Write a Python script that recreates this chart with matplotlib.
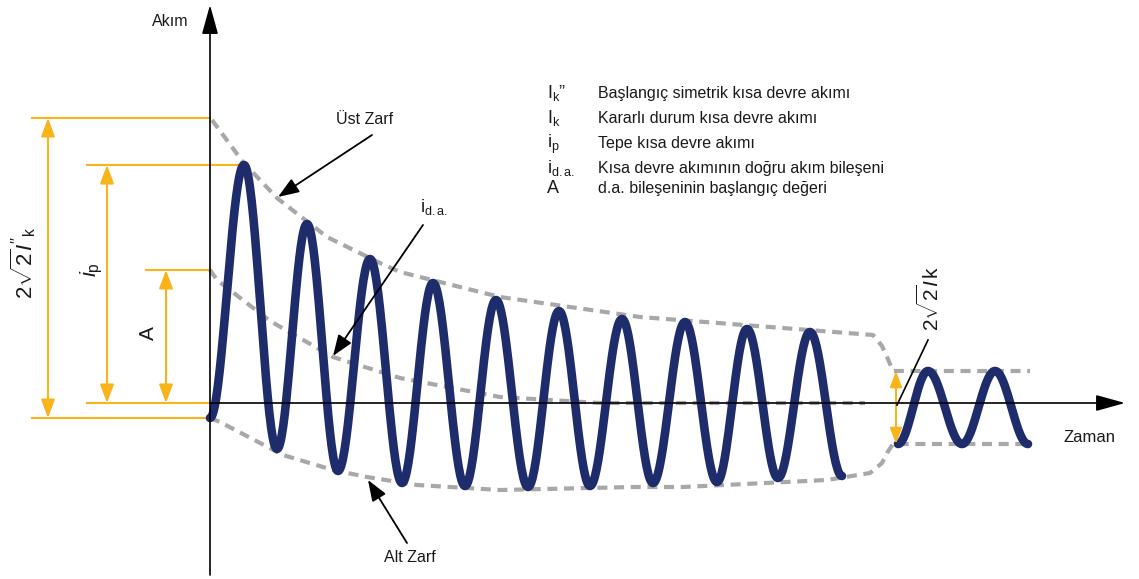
import matplotlib
matplotlib.use("Agg")
import matplotlib.pyplot as plt
import numpy as np

plt.rcParams['font.family'] = ['Liberation Sans', 'DejaVu Sans']
plt.rcParams['mathtext.fontset'] = 'custom'
plt.rcParams['mathtext.rm'] = 'Liberation Sans'
plt.rcParams['mathtext.it'] = 'Liberation Sans:italic'
plt.rcParams['mathtext.bf'] = 'Liberation Sans:bold'

# short-circuit current: extrema of the transient (time, current), schematic units
wave_t = [0, 34, 67, 97, 128, 160, 192, 223, 255, 286, 318, 349, 380, 412, 443, 475, 507, 537, 568, 600, 632]
wave_i = [-15, 238, -46, 179, -68, 144, -80, 120, -83, 103, -84, 92, -83, 84, -80, 81, -79, 74, -75, 71, -73]

# steady state after the transient
steady_t = [688, 718, 752, 785, 818]
steady_i = [-41, 32, -41, 32, -41]

# envelopes
upper_t = [2, 33, 67, 117, 170, 190, 290, 430, 560, 663, 672, 677, 683, 820]
upper_i = [283, 241, 205, 166, 140, 131, 106, 86, 76, 68, 57, 46, 32, 32]
lower_t = [0, 10, 73, 123, 157, 207, 290, 423, 473, 617, 660, 672, 677, 683, 815]
lower_i = [-15, -19, -52, -67, -74, -82, -87, -84, -84, -77, -70, -60, -50, -41, -41]
dc_t = [0, 7, 60, 123, 190, 290, 340, 390, 655]
dc_i = [133, 123, 82, 46, 25, 6, 3, 0, 0]

# dimension levels
lvl_2sqrt2 = 285   # 2*sqrt(2)*I''k
lvl_ip = 238       # peak current
lvl_A = 133        # initial d.c. value
lvl_start = -15

legend_sym = ['I$_{\\mathrm{k}}$\u201d', 'I$_{\\mathrm{k}}$', 'i$_{\\mathrm{p}}$', 'i$_{\\mathrm{d.a.}}$', 'A']
legend_txt = ['Başlangıç simetrik kısa devre akımı',
              'Kararlı durum kısa devre akımı',
              'Tepe kısa devre akımı',
              'Kısa devre akımının doğru akım bileşeni',
              'd.a. bileşeninin başlangıç değeri']

navy = '#1f2c6c'
orange = '#f9b31b'
gray = '#a8a8a8'
ink = '#1a1a1a'


def cos_path(tx, ty, n=40):
    xs, ys = [], []
    for k in range(len(tx) - 1):
        s = np.linspace(0, 1, n)
        xs.append(tx[k] + (tx[k + 1] - tx[k]) * s)
        ys.append(ty[k] + (ty[k + 1] - ty[k]) * (1 - np.cos(np.pi * s)) / 2)
    return np.concatenate(xs), np.concatenate(ys)


def darrow(ax, x, y0, y1, scale=14):
    ax.annotate('', xy=(x, y1), xytext=(x, y0),
                arrowprops=dict(arrowstyle='<|-|>,head_length=0.8,head_width=0.3',
                                color=orange, lw=1.5, mutation_scale=scale,
                                shrinkA=0, shrinkB=0))


def pointer(ax, tip, tail):
    ax.annotate('', xy=tip, xytext=tail,
                arrowprops=dict(arrowstyle='-|>,head_length=0.8,head_width=0.3',
                                color='black', lw=1.3, mutation_scale=16,
                                shrinkA=0, shrinkB=0), zorder=6)


fig = plt.figure(figsize=(11.39, 5.79), dpi=100)
ax = fig.add_axes([0, 0, 1, 1])
ax.set_xlim(-210, 929)
ax.set_ylim(-176, 403)
ax.axis('off')

# envelopes and d.c. component
dash = dict(color=gray, lw=3, dashes=(2.4, 1.6), zorder=2)
ax.plot(upper_t, upper_i, **dash)
ax.plot(lower_t, lower_i, **dash)
ax.plot(dc_t, dc_i, **dash)

# current waveform
tt, ii = cos_path(wave_t, wave_i)
ax.plot(tt, ii, color=navy, lw=6.2, solid_capstyle='round', zorder=3)
st, si = cos_path(steady_t, steady_i)
ax.plot(st, si, color=navy, lw=6.2, solid_capstyle='round', zorder=3)

# axes
axis_arrow = dict(arrowstyle='-|>,head_length=0.9,head_width=0.25', color='black',
                  lw=1.2, mutation_scale=20, shrinkA=0, shrinkB=0)
ax.annotate('', xy=(0, 398), xytext=(0, -172), arrowprops=axis_arrow, zorder=5)
ax.annotate('', xy=(915, 0), xytext=(0, 0), arrowprops=axis_arrow, zorder=5)
ax.text(-40, 381, 'Akım', fontsize=11.5, color=ink, ha='center', va='center')
ax.text(880, -34, 'Zaman', fontsize=12, color=ink, ha='center', va='center')

# dimension lines on the left
ax.plot([-178, 0], [lvl_2sqrt2, lvl_2sqrt2], color=orange, lw=1.5, zorder=1)
ax.plot([-123, wave_t[1]], [lvl_ip, lvl_ip], color=orange, lw=1.5, zorder=1)
ax.plot([-64, 0], [lvl_A, lvl_A], color=orange, lw=1.5, zorder=1)
ax.plot([-123, 0], [0, 0], color=orange, lw=1.5, zorder=1)
ax.plot([-178, 0], [lvl_start, lvl_start], color=orange, lw=1.5, zorder=1)
darrow(ax, -162, lvl_start, lvl_2sqrt2)
darrow(ax, -103, 0, lvl_ip)
darrow(ax, -44, 0, lvl_A)
ax.text(-187, 140, "$2\\sqrt{2}I^{\\prime\\prime}{}_{\\mathrm{k}}$",
        fontsize=16, rotation=90, ha='center', va='center', color=ink)
ax.text(-118, 133, '$i_{\\mathrm{p}}$', fontsize=16, rotation=90, ha='center', va='center', color=ink)
ax.text(-62, 70, 'A', fontsize=15, rotation=90, ha='center', va='center', color=ink)

# steady-state amplitude
darrow(ax, 686, steady_i[0], steady_i[1], scale=12)
ax.plot([687, 718], [-2, 63], color='black', lw=1.2, zorder=6)
ax.text(720, 105, '$2\\sqrt{2}I\\,\\mathrm{k}$', fontsize=15, rotation=90,
        ha='center', va='center', color=ink)

# pointers
ax.text(155, 284, 'Üst Zarf', fontsize=11.5, color=ink, ha='center', va='center')
pointer(ax, (68, 206), (162, 268))
ax.text(224, 196, 'i$_{\\mathrm{d.a.}}$', fontsize=13, color=ink, ha='center', va='center')
pointer(ax, (123, 47), (213, 178))
ax.text(200, -154, 'Alt Zarf', fontsize=11.5, color=ink, ha='center', va='center')
pointer(ax, (158, -77), (197, -140))

# symbol list, placed on text baselines
rows_y = [305, 280, 255, 230, 210]
for sym, txt, y in zip(legend_sym, legend_txt, rows_y):
    ax.text(337, y, sym, fontsize=13, color=ink, ha='left', va='baseline')
    ax.text(388, y, txt, fontsize=11.5, color=ink, ha='left', va='baseline')

fig.savefig('out.png', dpi=100)
